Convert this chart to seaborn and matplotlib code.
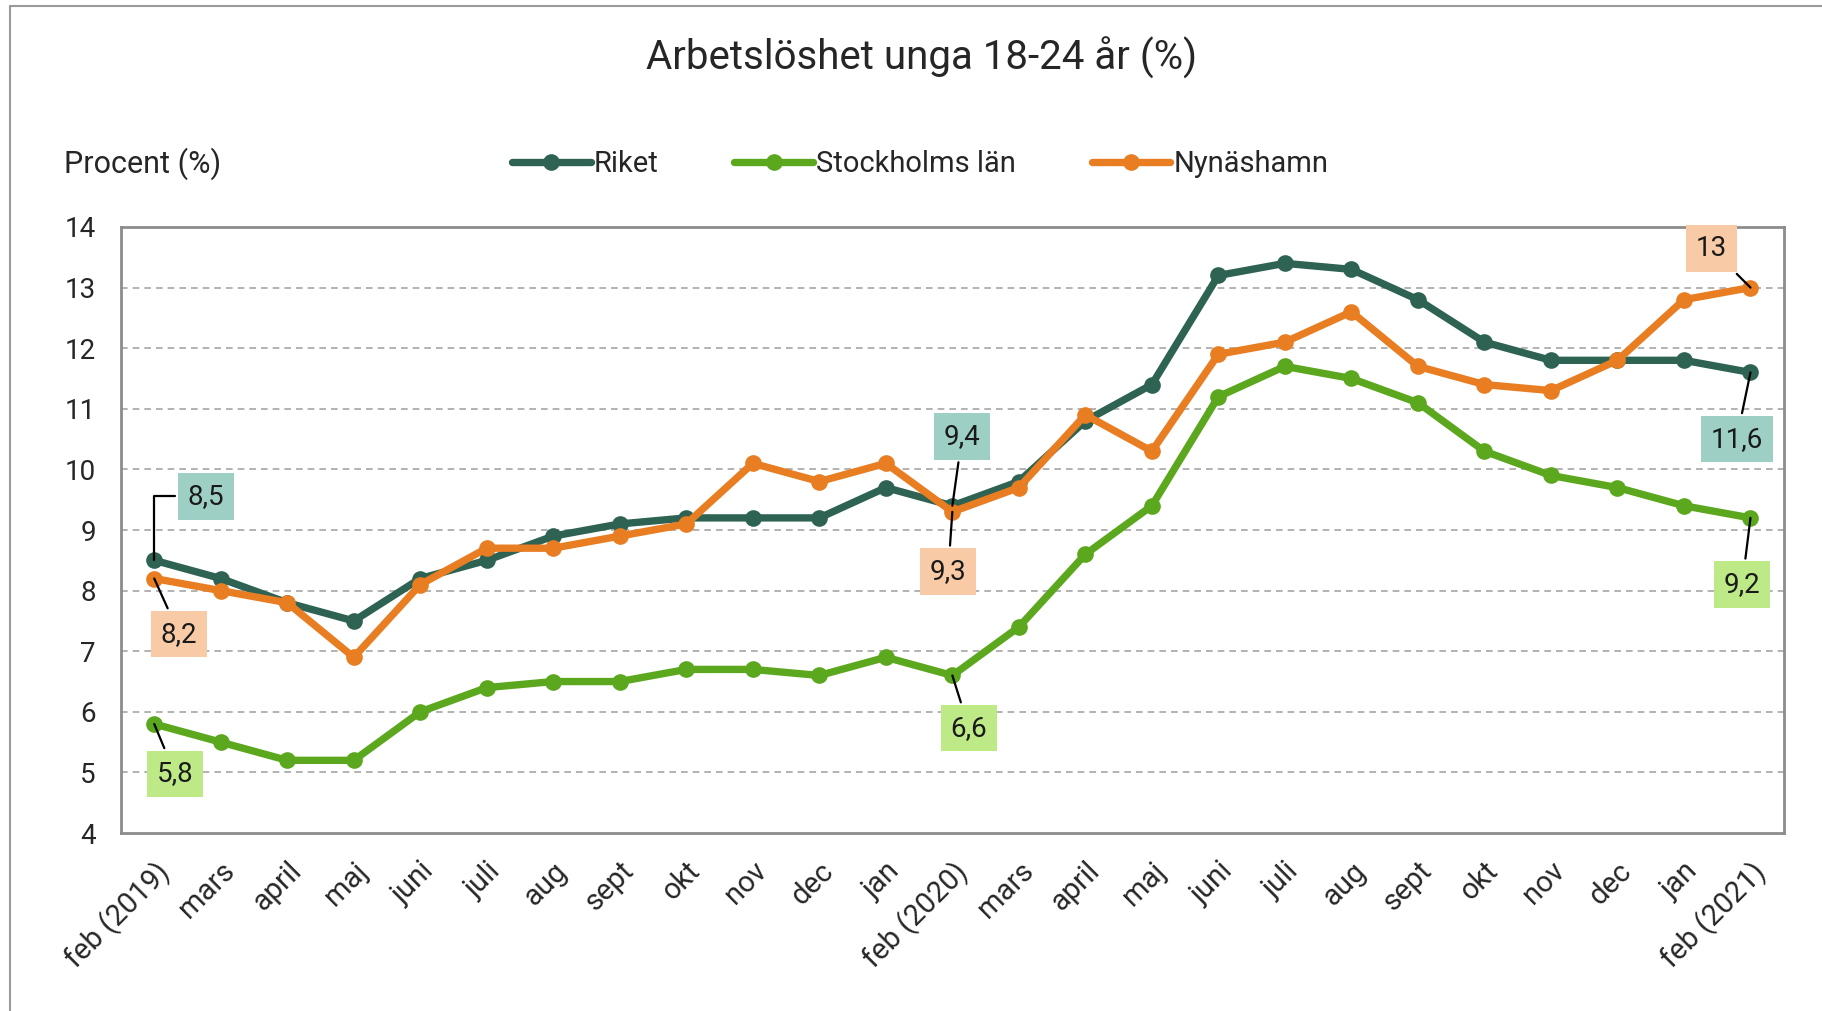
import matplotlib
matplotlib.use('Agg')
import matplotlib.pyplot as plt
import seaborn as sns
import pandas as pd
from matplotlib.lines import Line2D

# data
months = ['feb (2019)', 'mars', 'april', 'maj', 'juni', 'juli', 'aug', 'sept', 'okt',
          'nov', 'dec', 'jan', 'feb (2020)', 'mars', 'april', 'maj', 'juni', 'juli',
          'aug', 'sept', 'okt', 'nov', 'dec', 'jan', 'feb (2021)']
riket = [8.5, 8.2, 7.8, 7.5, 8.2, 8.5, 8.9, 9.1, 9.2, 9.2, 9.2, 9.7, 9.4,
         9.8, 10.8, 11.4, 13.2, 13.4, 13.3, 12.8, 12.1, 11.8, 11.8, 11.8, 11.6]
stockholm = [5.8, 5.5, 5.2, 5.2, 6.0, 6.4, 6.5, 6.5, 6.7, 6.7, 6.6, 6.9, 6.6,
             7.4, 8.6, 9.4, 11.2, 11.7, 11.5, 11.1, 10.3, 9.9, 9.7, 9.4, 9.2]
nynashamn = [8.2, 8.0, 7.8, 6.9, 8.1, 8.7, 8.7, 8.9, 9.1, 10.1, 9.8, 10.1, 9.3,
             9.7, 10.9, 10.3, 11.9, 12.1, 12.6, 11.7, 11.4, 11.3, 11.8, 12.8, 13.0]
series_names = ['Riket', 'Stockholms län', 'Nynäshamn']
y_ticks = [4, 5, 6, 7, 8, 9, 10, 11, 12, 13, 14]

colors = {'Riket': '#2E6252', 'Stockholms län': '#5BA71D', 'Nynäshamn': '#E87D22'}
box_colors = {'Riket': '#9DCFC4', 'Stockholms län': '#BDEA86', 'Nynäshamn': '#F8CBA6'}

sns.set_style('white')
plt.rcParams['font.family'] = ['Roboto', 'DejaVu Sans']

values = {'Riket': riket, 'Stockholms län': stockholm, 'Nynäshamn': nynashamn}
df = pd.DataFrame({'x': list(range(len(months))) * 3,
                   'serie': [s for s in series_names for _ in months],
                   'value': riket + stockholm + nynashamn})

fig = plt.figure(figsize=(18.22, 10.11), dpi=100)
ax = fig.add_axes([0.0664, 0.176, 0.9126, 0.5995])

for name in series_names:
    sub = df[df['serie'] == name]
    sns.lineplot(data=sub, x='x', y='value', ax=ax, color=colors[name], linewidth=5.3,
                 marker='o', markersize=12, markeredgewidth=0, label=name, sort=False)

ax.set_xlim(-0.5, len(months) - 0.5)
ax.set_ylim(4, 14)
ax.set_yticks(y_ticks)
ax.set_xticks(range(len(months)))
ax.set_xticklabels(months, rotation=45, ha='right', va='top', rotation_mode='anchor',
                   fontsize=21)
ax.tick_params(axis='y', labelsize=20, pad=18, length=0)
ax.tick_params(axis='x', pad=17, length=0)
ax.set_xlabel('')
ax.set_ylabel('')
for sp in ax.spines.values():
    sp.set_color('#8c8c8c')
    sp.set_linewidth(2)
for yv in y_ticks[1:-1]:
    ax.axhline(yv, color='#a6a6a6', linestyle=(0, (4, 3)), linewidth=1.2, zorder=0)

# data labels: (series, index, offset in points, elbow connector)
labels = [('Riket', 0, (37, 46), True),
          ('Nynäshamn', 0, (18, -40), False),
          ('Stockholms län', 0, (15, -36), False),
          ('Riket', 12, (7, 50), False),
          ('Nynäshamn', 12, (-3, -43), False),
          ('Stockholms län', 12, (12, -38), False),
          ('Nynäshamn', 24, (-28, 28), False),
          ('Riket', 24, (-10, -48), False),
          ('Stockholms län', 24, (-6, -48), False)]
for name, i, off, elbow in labels:
    v = values[name][i]
    txt = f'{v:g}'.replace('.', ',')
    cs = 'angle,angleA=0,angleB=90,rad=0' if elbow else 'arc3'
    ax.annotate(txt, xy=(i, v), xytext=off, textcoords='offset points',
                ha='center', va='center', fontsize=20, color='#1a1a1a',
                bbox=dict(boxstyle='square,pad=0.35', fc=box_colors[name], ec='none'),
                arrowprops=dict(arrowstyle='-', color='black', lw=1.6,
                                connectionstyle=cs, shrinkB=0),
                zorder=5)

ax.legend_.remove()
handles = [Line2D([0], [0], color=colors[n], lw=5.3, marker='o', markersize=12,
                  markeredgewidth=0) for n in series_names]
fig.legend(handles, series_names, loc='center', bbox_to_anchor=(0.505, 0.838), ncol=3,
           frameon=False, fontsize=21, handlelength=2.7, handletextpad=0.1,
           columnspacing=2.6)

fig.text(0.035, 0.838, 'Procent (%)', fontsize=22, ha='left', va='center')
fig.suptitle('Arbetslöshet unga 18-24 år (%)', x=0.506, y=0.943, fontsize=29,
             va='center')

# outer chart frame (left and top edges visible)
fig.add_artist(Line2D([0.0055, 0.0055], [0, 0.994], transform=fig.transFigure,
                      color='#9a9a9a', lw=1.5))
fig.add_artist(Line2D([0.0055, 1], [0.994, 0.994], transform=fig.transFigure,
                      color='#9a9a9a', lw=1.5))

fig.savefig('out.png', dpi=100)
